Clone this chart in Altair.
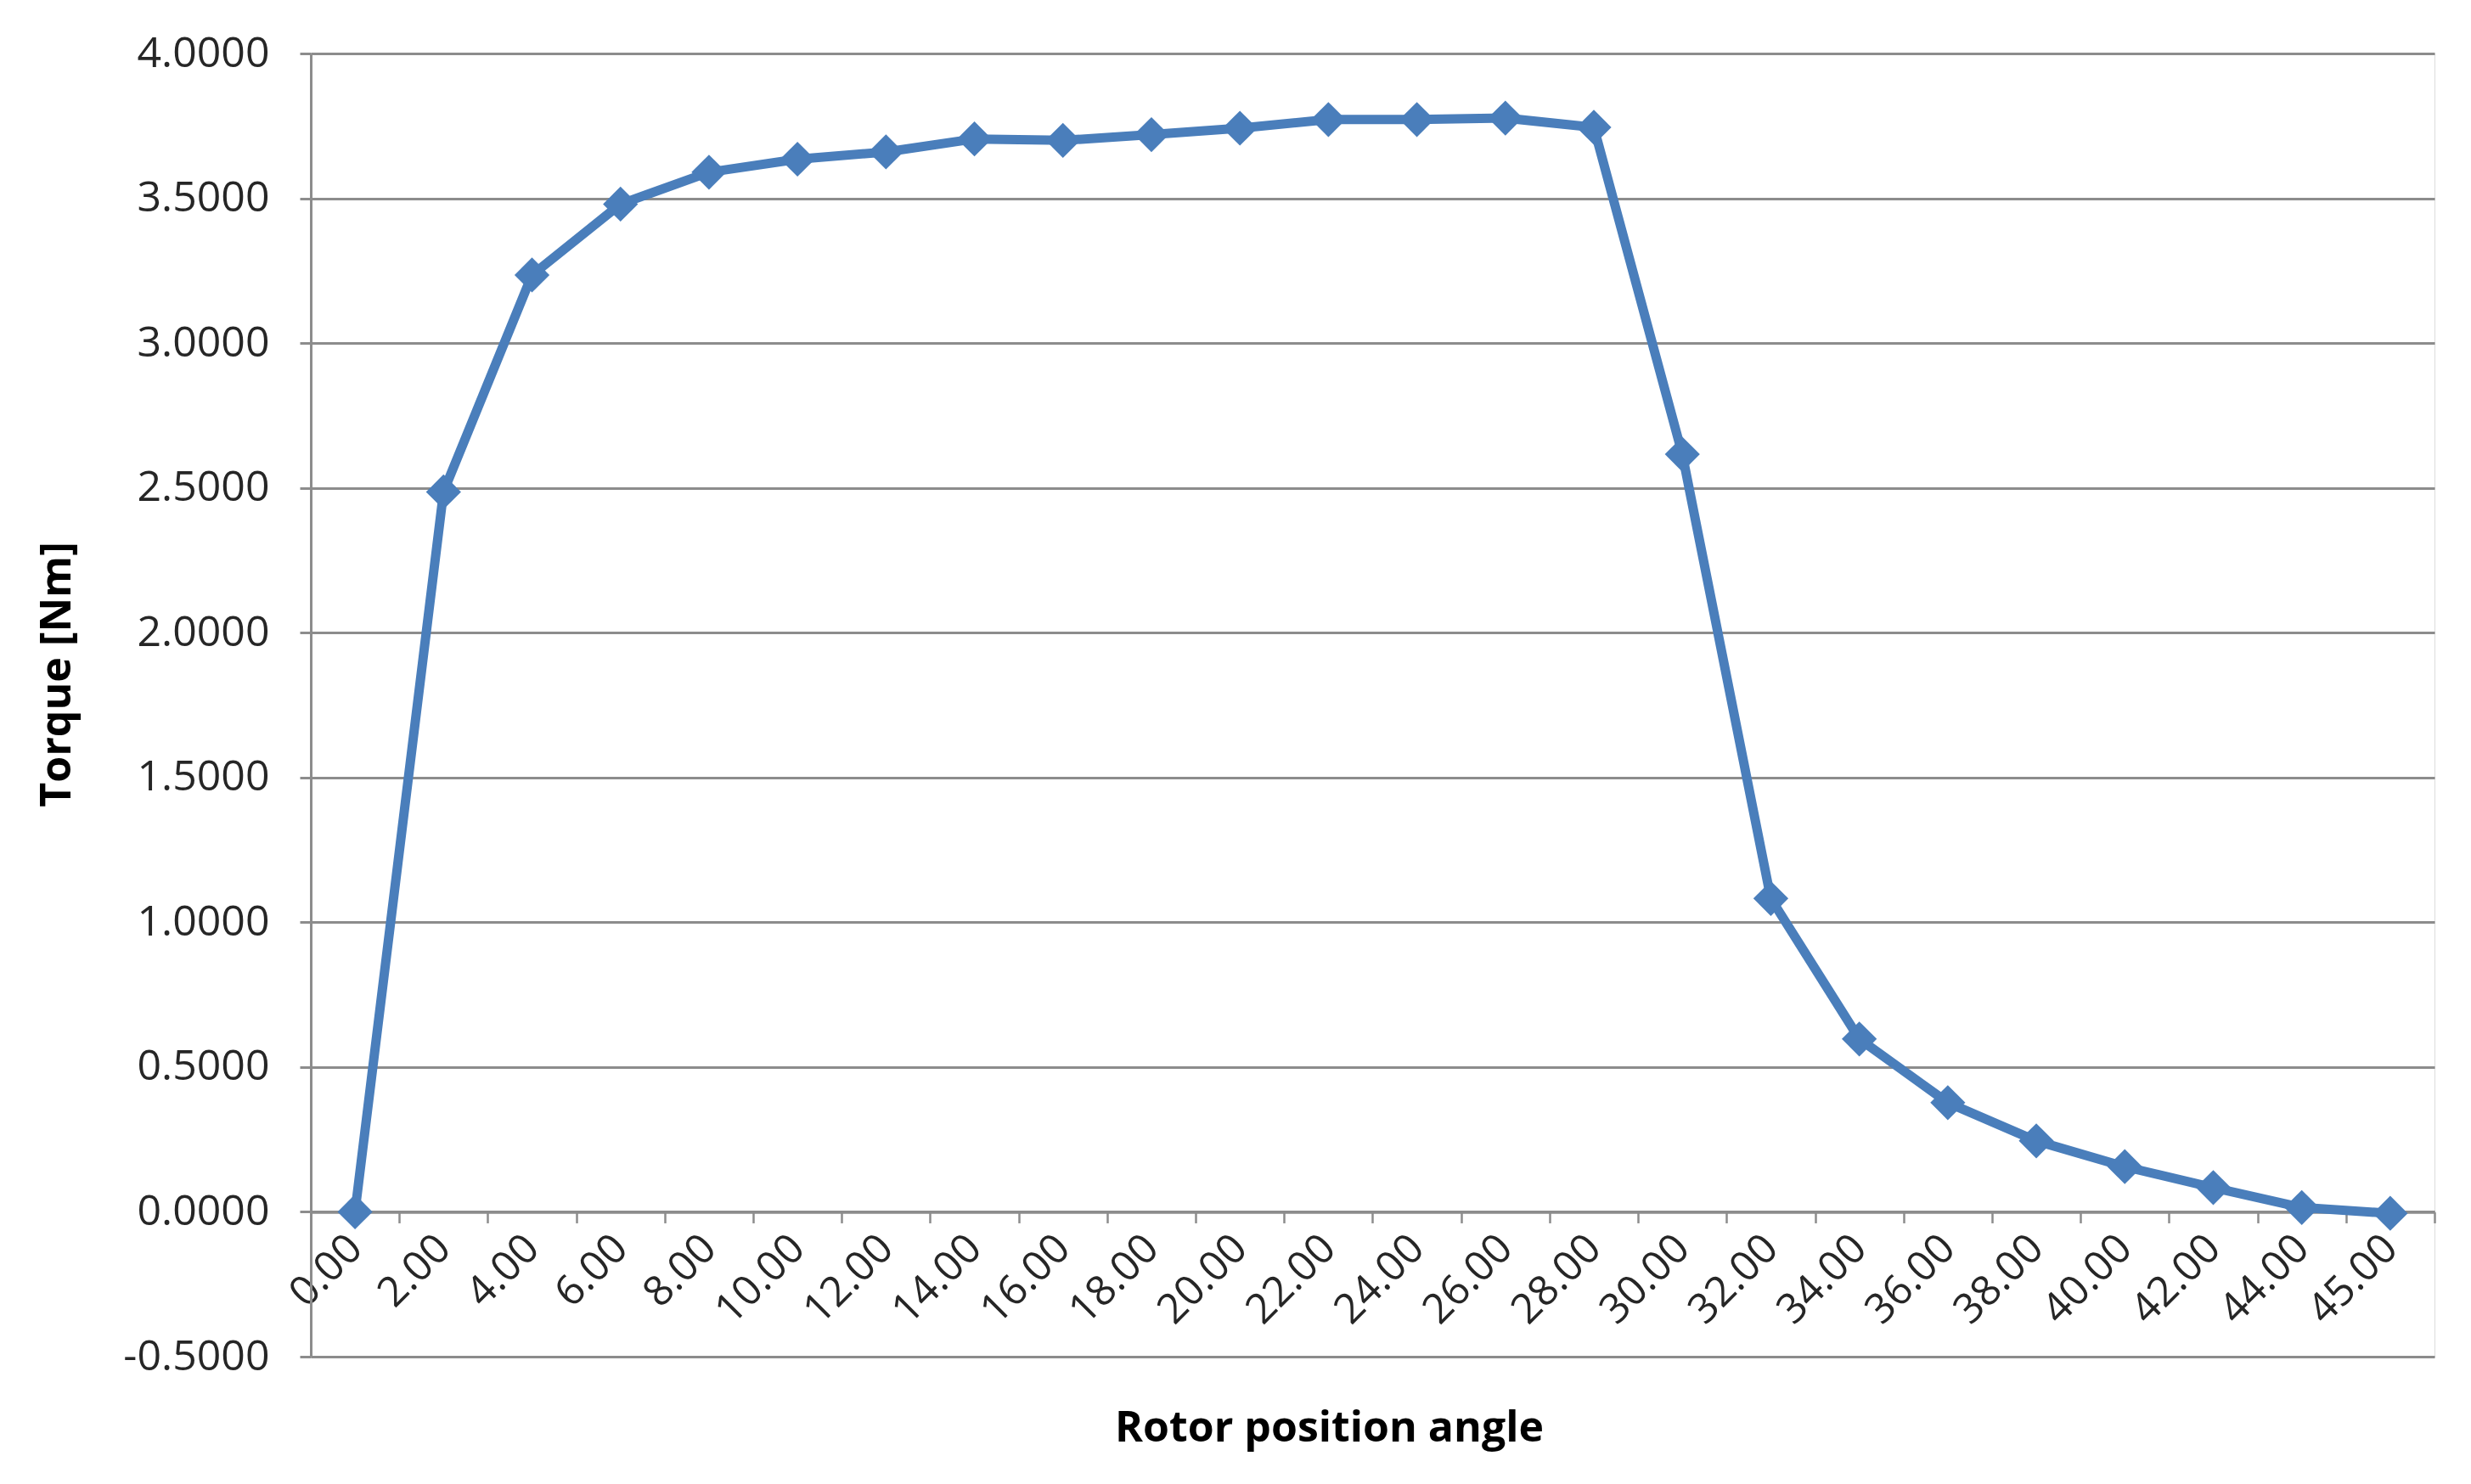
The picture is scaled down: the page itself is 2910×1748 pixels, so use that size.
import altair as alt
import pandas as pd

angles = ["0.00", "2.00", "4.00", "6.00", "8.00", "10.00", "12.00", "14.00",
          "16.00", "18.00", "20.00", "22.00", "24.00", "26.00", "28.00", "30.00",
          "32.00", "34.00", "36.00", "38.00", "40.00", "42.00", "44.00", "45.00"]
torque = [0.000, 2.486, 3.235, 3.480, 3.590, 3.635, 3.660, 3.705,
          3.700, 3.720, 3.742, 3.772, 3.772, 3.777, 3.745, 2.616,
          1.082, 0.597, 0.377, 0.245, 0.156, 0.084, 0.015, -0.005]
y_ticks = [-0.5, 0.0, 0.5, 1.0, 1.5, 2.0, 2.5, 3.0, 3.5, 4.0]

df = pd.DataFrame({"angle": angles, "torque": torque})

W, H = 2501, 1535
ymin, ymax = -0.5, 4.0
zero_offset = -H * (0 - ymin) / (ymax - ymin)

GRID = "#8c8c8c"
BLUE = "#4a7ebb"
FONT = "Open Sans"
LABEL = "#262626"

x_enc = alt.X(
    "angle:N",
    sort=angles,
    bandPosition=0.5,
    scale=alt.Scale(type="band", paddingInner=0, paddingOuter=0),
    axis=alt.Axis(
        offset=zero_offset,
        tickBand="extent",
        labelAngle=-45,
        labelAlign="right",
        labelBaseline="middle",
        labelPadding=22,
        labelFont=FONT,
        labelFontSize=49,
        labelColor=LABEL,
        labelLimit=0,
        tickSize=13,
        tickColor=GRID,
        tickWidth=2.5,
        domainColor=GRID,
        domainWidth=3.5,
        grid=False,
        title="Rotor position angle",
        titleFont=FONT,
        titleFontSize=50,
        titleFontWeight="bold",
        titleColor="#000000",
        titleX=1199,
        titleY=255,
        titleAlign="center",
        titleBaseline="middle",
    ),
)

y_enc = alt.Y(
    "torque:Q",
    scale=alt.Scale(domain=[ymin, ymax], nice=False, zero=False),
    axis=alt.Axis(
        values=y_ticks,
        labelExpr="replace(format(datum.value, '.4f'), '\u2212', '-')",
        grid=True,
        gridColor=GRID,
        gridWidth=3,
        tickColor=GRID,
        tickWidth=3,
        tickSize=13,
        domainColor=GRID,
        domainWidth=3,
        labelFont=FONT,
        labelFontSize=50,
        labelColor=LABEL,
        labelLimit=0,
        labelPadding=36,
        title="Torque [Nm]",
        titleFont=FONT,
        titleFontSize=50,
        titleFontWeight="bold",
        titleColor="#000000",
        titleX=-299,
        titleY=731,
        titleAlign="center",
        titleBaseline="middle",
        titleAngle=270,
    ),
)

base = alt.Chart(df).encode(x=x_enc, y=y_enc)
line = base.mark_line(color=BLUE, strokeWidth=11, strokeJoin="round")
pts = base.mark_point(shape="diamond", filled=True, size=1700, color=BLUE, opacity=1)

chart = (line + pts).properties(
    width=W,
    height=H,
    autosize=alt.AutoSizeParams(type="none"),
    padding={"left": 358, "top": 55, "right": 20, "bottom": 130},
).configure_view(stroke=None).configure(background="white")

chart.save("out.html", embed_options={"renderer": "svg", "actions": False})
